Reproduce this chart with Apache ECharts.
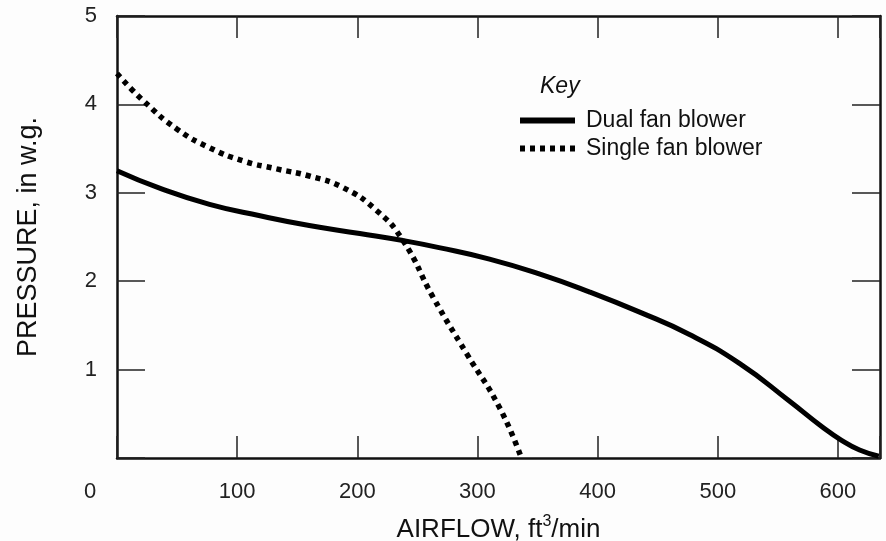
<!DOCTYPE html>
<html>
<head>
<meta charset="utf-8">
<script src="https://cdn.jsdelivr.net/npm/echarts@6/dist/echarts.min.js"></script>
<style>
  html, body { margin: 0; padding: 0; background: #fdfdfd; }
  #chart { width: 886px; height: 541px; }
</style>
</head>
<body>
<div id="chart"></div>
<script>
// airflow (ft3/min) vs pressure (in w.g.)
var dualFlow = [0, 36, 77, 119, 160, 202, 238, 268, 310, 352, 393, 435, 476, 518, 559, 587, 603, 618, 634];
var dualPressure = [3.25, 3.05, 2.87, 2.74, 2.63, 2.54, 2.46, 2.38, 2.25, 2.08, 1.88, 1.65, 1.40, 1.07, 0.65, 0.35, 0.20, 0.09, 0.02];

var singleFlow = [0, 22, 50, 77, 105, 133, 160, 188, 216, 238, 263, 291, 318, 336];
var singlePressure = [4.35, 4.04, 3.72, 3.51, 3.36, 3.27, 3.19, 3.06, 2.80, 2.46, 1.82, 1.18, 0.58, 0.02];

var seriesNames = ['Dual fan blower', 'Single fan blower'];
var xTicks = [100, 200, 300, 400, 500, 600];
var yTicks = [1, 2, 3, 4, 5];

function pairs(xs, ys) {
    var out = [];
    for (var i = 0; i < xs.length; i++) out.push([xs[i], ys[i]]);
    return out;
}

var chart = echarts.init(document.getElementById('chart'));

var font = 'Arial';
var axisLine = { show: true, onZero: false, lineStyle: { color: '#111', width: 2.5 } };
var tick = function (len) {
    return { show: true, inside: true, length: len, lineStyle: { color: '#222', width: 1.5 } };
};

var option = {
    backgroundColor: '#fdfdfd',
    animation: false,
    grid: { left: 117, right: 6, top: 16, bottom: 83, outerBoundsMode: 'none', containLabel: false },
    xAxis: [{
        type: 'value', min: 0, max: 635, interval: 100, position: 'bottom',
        axisLine: axisLine, axisTick: tick(22), splitLine: { show: false },
        axisLabel: {
            margin: 23, fontSize: 22, color: '#222', fontFamily: font,
            formatter: function (v) { return xTicks.indexOf(v) >= 0 ? String(v) : ''; }
        },
        name: 'AIRFLOW, ft{sup|3}/min', nameLocation: 'middle', nameGap: 56,
        nameTextStyle: {
            fontSize: 26, color: '#111', fontFamily: font,
            rich: { sup: { fontSize: 16, verticalAlign: 'top', padding: [0, 0, 16, 0], fontFamily: font, color: '#111' } }
        }
    }, {
        type: 'value', min: 0, max: 635, interval: 100, position: 'top',
        axisLine: axisLine, axisTick: tick(22), axisLabel: { show: false }, splitLine: { show: false }
    }],
    yAxis: [{
        type: 'value', min: 0, max: 5, interval: 1, position: 'left',
        axisLine: axisLine, axisTick: tick(28), splitLine: { show: false },
        axisLabel: {
            margin: 20, fontSize: 22, color: '#222', fontFamily: font,
            formatter: function (v) { return yTicks.indexOf(v) >= 0 ? String(v) : ''; }
        },
        name: 'PRESSURE, in w.g.', nameLocation: 'middle', nameGap: 75, nameRotate: 90,
        nameTextStyle: { fontSize: 27, color: '#111', fontFamily: font }
    }, {
        type: 'value', min: 0, max: 5, interval: 1, position: 'right',
        axisLine: axisLine, axisTick: tick(28), axisLabel: { show: false }, splitLine: { show: false }
    }],
    legend: {
        orient: 'vertical', left: 517, top: 109, padding: 0,
        itemWidth: 55, itemHeight: 26, itemGap: 5,
        data: seriesNames,
        itemStyle: { opacity: 0 },
        lineStyle: { width: 6 },
        textStyle: { fontSize: 23, color: '#111', fontFamily: font, padding: [0, 0, 0, 6] }
    },
    graphic: [{
        type: 'text', left: 540, top: 75,
        style: { text: 'Key', fontSize: 23, fontStyle: 'italic', fontFamily: font, fill: '#111' }
    }, {
        type: 'text', left: 84, top: 481,
        style: { text: '0', fontSize: 22, fontFamily: font, fill: '#222' }
    }],
    series: [{
        name: seriesNames[0], type: 'line', smooth: true, showSymbol: false, symbol: 'none',
        data: pairs(dualFlow, dualPressure),
        lineStyle: { color: '#000', width: 5 }, itemStyle: { color: '#000' }
    }, {
        name: seriesNames[1], type: 'line', smooth: true, showSymbol: false, symbol: 'none',
        data: pairs(singleFlow, singlePressure),
        lineStyle: { color: '#000', width: 5.5, type: [5, 5] }, itemStyle: { color: '#000' }
    }]
};

chart.setOption(option);
</script>
</body>
</html>
